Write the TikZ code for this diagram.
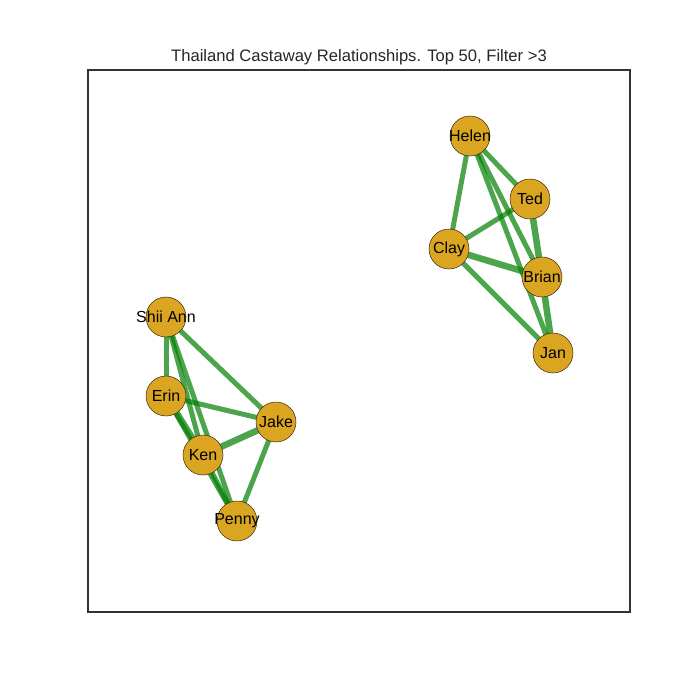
\documentclass[tikz,border=0pt]{standalone}
\usepackage{fontspec}
\setmainfont{Liberation Sans}
\begin{document}
\begin{tikzpicture}[x=1pt,y=-1pt,
  person/.style={circle,draw=black!70!brown,line width=0.5pt,fill=goldenrod,minimum size=40pt,inner sep=0pt},
  lbl/.style={inner sep=0pt,font=\fontsize{16}{18}\selectfont},
  tie/.style={draw=tiegreen,opacity=0.7,line width=5pt},
  strongtie/.style={draw=tiegreen,opacity=0.7,line width=6.5pt}]
\definecolor{goldenrod}{HTML}{DAA520}
\definecolor{tiegreen}{HTML}{008000}
\useasboundingbox (0,0) rectangle (700,700);
\fill[white] (0,0) rectangle (700,700);
\draw[line width=1.5pt,black!80] (88,70) rectangle (630,612);
\node[font=\fontsize{16.6}{19}\selectfont,text=black!85] (title) at (359,57) {Thailand Castaway Relationships. Top 50, Filter >3};
% node positions
\coordinate (pHelen) at (470,136);
\coordinate (pTed) at (530,199);
\coordinate (pClay) at (449,249);
\coordinate (pBrian) at (542,277);
\coordinate (pJan) at (553,353);
\coordinate (pShii) at (166,317);
\coordinate (pErin) at (166,396);
\coordinate (pJake) at (276,422);
\coordinate (pKen) at (203,455);
\coordinate (pPenny) at (237,521);
% edges
\draw[tie] (pShii) -- (pErin);
\draw[tie] (pShii) -- (pJake);
\draw[tie] (pShii) -- (pKen);
\draw[tie] (pShii) -- (pPenny);
\draw[tie] (pErin) -- (pJake);
\draw[strongtie] (pErin) -- (pKen);
\draw[tie] (pErin) -- (pPenny);
\draw[strongtie] (pKen) -- (pJake);
\draw[tie] (pKen) -- (pPenny);
\draw[tie] (pJake) -- (pPenny);
\draw[tie] (pHelen) -- (pClay);
\draw[tie] (pHelen) -- (pTed);
\draw[tie] (pHelen) -- (pBrian);
\draw[tie] (pHelen) -- (pJan);
\draw[tie] (pTed) -- (pClay);
\draw[strongtie] (pTed) -- (pBrian);
\draw[strongtie] (pClay) -- (pBrian);
\draw[tie] (pClay) -- (pJan);
\draw[strongtie] (pBrian) -- (pJan);
% nodes
\foreach \p in {Helen,Ted,Clay,Brian,Jan,Shii,Erin,Jake,Ken,Penny}
  \node[person] (\p) at (p\p) {};
\node[lbl] (tHelen) at (Helen) {Helen};
\node[lbl] (tTed) at (Ted) {Ted};
\node[lbl] (tClay) at (Clay) {Clay};
\node[lbl] (tBrian) at (Brian) {Brian};
\node[lbl] (tJan) at (Jan) {Jan};
\node[lbl] (tShii) at (Shii) {Shii Ann};
\node[lbl] (tErin) at (Erin) {Erin};
\node[lbl] (tJake) at (Jake) {Jake};
\node[lbl] (tKen) at (Ken) {Ken};
\node[lbl] (tPenny) at (Penny) {Penny};
\end{tikzpicture}
\end{document}
